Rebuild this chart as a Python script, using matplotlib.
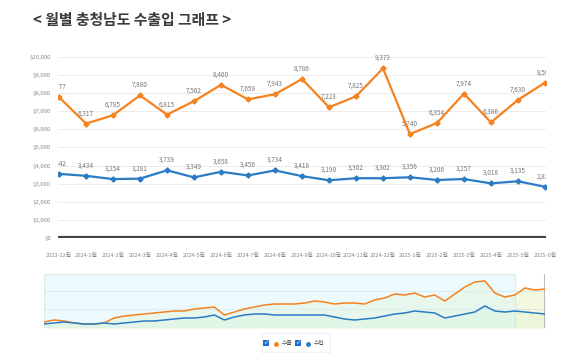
import matplotlib
matplotlib.use("Agg")
import matplotlib.pyplot as plt
import numpy as np
from matplotlib.patches import Rectangle

plt.rcParams['font.family'] = ['Noto Sans CJK KR', 'DejaVu Sans']

months = ["2023-12월", "2024-1월", "2024-2월", "2024-3월", "2024-4월", "2024-5월",
          "2024-6월", "2024-7월", "2024-8월", "2024-9월", "2024-10월", "2024-11월",
          "2024-12월", "2025-1월", "2025-2월", "2025-3월", "2025-4월", "2025-5월", "2025-6월"]
exports = [7777, 6317, 6785, 7880, 6815, 7562, 8460, 7659, 7943, 8786, 7223, 7825,
           9373, 5740, 6354, 7974, 6386, 7630, 8580]
imports = [3542, 3434, 3254, 3281, 3739, 3349, 3658, 3456, 3734, 3418, 3190, 3302,
           3302, 3356, 3206, 3257, 3018, 3135, 2830]
y_ticks = [0, 1000, 2000, 3000, 4000, 5000, 6000, 7000, 8000, 9000, 10000]

# navigator overview series (relative heights)
nav_exports = [6, 8, 7, 5, 4, 4, 5, 10, 12, 13, 14, 15, 16, 17, 17, 19, 20, 21, 13, 16,
               19, 21, 23, 24, 24, 24, 25, 27, 26, 24, 25, 25, 24, 28, 30, 34, 33, 35,
               31, 33, 27, 34, 41, 46, 47, 35, 31, 33, 40, 38, 39]
nav_imports = [4, 5, 6, 5, 4, 4, 5, 4, 5, 6, 7, 7, 8, 9, 10, 10, 11, 13, 8, 11,
               13, 14, 14, 13, 13, 13, 13, 13, 13, 11, 9, 8, 9, 10, 12, 14, 15, 17,
               16, 15, 10, 12, 14, 16, 22, 17, 16, 17, 16, 15, 14]

ORANGE = '#F5821F'
BLUE = '#2B7CC4'
W, H = 580, 363
NARROW = ['Liberation Sans Narrow', 'Noto Sans CJK KR', 'DejaVu Sans']

fig = plt.figure(figsize=(5.8, 3.63), dpi=100)
fig.patch.set_facecolor('white')

def fx(px):
    return px / W

def fy(py):
    return 1 - py / H

# title
fig.text(fx(33), fy(20), "< 월별 충청남도 수출입 그래프 >", fontsize=10.7,
         fontweight='bold', color='#3a3a3a', va='center', ha='left')

# main chart
ax = fig.add_axes([fx(58), fy(238), fx(546 - 58), (238 - 57) / H])
x = np.arange(len(months))
ax.set_xlim(-0.04, len(months) - 1 + 0.04)
ax.set_ylim(0, 10000)
ax.set_yticks(y_ticks)
ax.set_yticklabels([f"${v:,}" for v in y_ticks], fontsize=4.3, color='#888888',
                   family=NARROW)
ax.set_xticks(x)
ax.set_xticklabels(months, fontsize=4.1, color='#888888', family=NARROW)
ax.tick_params(axis='x', length=0, pad=11)
ax.tick_params(axis='y', length=0, pad=5)
for s in ax.spines.values():
    s.set_visible(False)
ax.grid(axis='y', color='#ececec', lw=0.7)
ax.set_axisbelow(True)
ax.axhline(0, color='#444444', lw=3, zorder=3, solid_capstyle='butt')

ax.plot(x, exports, color=ORANGE, lw=1.6, marker='D', ms=2.6, zorder=4)
ax.plot(x, imports, color=BLUE, lw=1.6, marker='D', ms=2.6, zorder=4)
clip_rect = Rectangle((0, -0.2), 1, 1.5, transform=ax.transAxes, visible=False)
ax.add_patch(clip_rect)
for series in (exports, imports):
    for xi, v in zip(x, series):
        t = ax.annotate(f"{v:,}", (xi, v), xytext=(0, 7.5), textcoords='offset points',
                        ha='center', va='center', fontsize=4.6, color='#777777',
                        family=NARROW, annotation_clip=False)
        t.set_clip_on(True)
        t.set_clip_path(clip_rect)

# navigator
nav = fig.add_axes([fx(44), fy(328), fx(545 - 44), (328 - 274) / H])
nx = np.linspace(0, 1, len(nav_exports))
nav.set_xlim(0, 1)
nav.set_ylim(0, 54)
nav.set_xticks([])
nav.set_yticks([19, 37])
nav.set_yticklabels([])
nav.tick_params(length=0)
nav.grid(axis='y', color='#dfe8ea', lw=0.7)
for s in nav.spines.values():
    s.set_visible(False)
nav.fill_between(nx, 0, nav_exports, color='#f3f7d9', alpha=0.8, lw=0, zorder=1)
nav.fill_between(nx, 0, nav_imports, color='#eaf6d6', alpha=0.8, lw=0, zorder=1)
sel_end = (515 - 44) / (545 - 44)
nav.add_patch(Rectangle((0, 0), sel_end, 54, facecolor='#d6f6fb', alpha=0.45,
                        edgecolor='#c8d4d6', lw=0.9, zorder=2))
nav.axvline(1, color='#bbbbbb', lw=1.5, zorder=3)
nav.plot(nx, nav_exports, color=ORANGE, lw=1.1, zorder=4)
nav.plot(nx, nav_imports, color=BLUE, lw=1.1, zorder=4)

# legend
lg = fig.add_axes([fx(262), fy(352), fx(330 - 262), (352 - 333) / H])
lg.set_xlim(262, 330)
lg.set_ylim(352, 333)
lg.set_xticks([])
lg.set_yticks([])
for s in lg.spines.values():
    s.set_color('#eeeeee')
    s.set_linewidth(0.6)
for cx, col, lab in [(266, ORANGE, "수출"), (298, BLUE, "수입")]:
    lg.add_patch(Rectangle((cx - 3, 339.5), 6, 6, facecolor='#1f6fd0', edgecolor='none'))
    lg.text(cx, 342.5, "✓", color='white', fontsize=4.5, ha='center', va='center',
            family=['DejaVu Sans'])
    lg.plot([cx + 10], [343.5], 'o', color=col, ms=2.5)
    lg.text(cx + 16, 343.5, lab, fontsize=4.2, color='#555555', ha='left', va='center')

fig.savefig("out.png", dpi=100)
